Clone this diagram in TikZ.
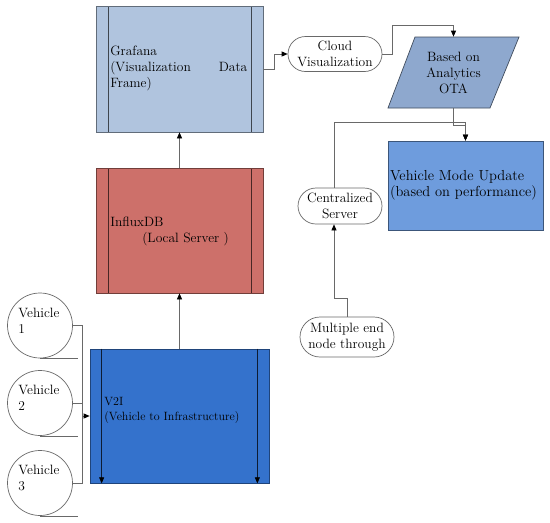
\documentclass[tikz,border=0pt]{standalone}
\usetikzlibrary{shapes.misc,arrows.meta}

\definecolor{grafanafill}{RGB}{176,196,222}
\definecolor{influxfill}{RGB}{205,112,106}
\definecolor{vtwoifill}{RGB}{52,114,204}
\definecolor{otafill}{RGB}{142,168,206}
\definecolor{modefill}{RGB}{110,156,221}
\definecolor{linegray}{RGB}{105,105,105}

\tikzset{%
  % Specifications for style of nodes:
     procbox/.style = {rectangle, draw=#1!55!black, fill=#1, minimum width=167pt, minimum height=126pt, inner sep=0pt,
                       path picture={\draw[#1!35!black] ([xshift=12pt]path picture bounding box.north west) -- ([xshift=12pt]path picture bounding box.south west);
                                     \draw[#1!35!black] ([xshift=-12pt]path picture bounding box.north east) -- ([xshift=-12pt]path picture bounding box.south east);}},
     boxtext/.style = {anchor=west, align=left, inner sep=0pt},
        tape/.style = {circle, draw=linegray, fill=white, minimum size=65pt, inner sep=0pt},
        term/.style = {rounded rectangle, draw=linegray, fill=white, inner sep=1pt, align=center},
       arrow/.style = {draw=linegray, -{Triangle[length=6pt,width=5pt,color=black]}},
        line/.style = {draw=linegray},
}

\begin{document}
\begin{tikzpicture}[x=1pt, y=-1pt, line width=0.7pt, every node/.style={font=\fontsize{13.5}{16}\selectfont}]
    \useasboundingbox[fill=white] (0,0) rectangle (550,523);

    % Draw nodes
    \node (grafana)  [procbox=grafanafill]                      at (179.5,69)   {};
    \node (influx)   [procbox=influxfill, minimum height=125pt] at (179.5,230.5) {};
    \node (vtwoi)    [rectangle, draw=vtwoifill!60!black, fill=vtwoifill, minimum width=179pt, minimum height=134pt] at (179.5,416) {};

    \node (grafanatxt) [boxtext, text width=137pt] at (110,68) {Grafana\\(Visualization\hfill Data\\Frame)};
    \node (influxtxt)  [boxtext]                   at (110,231) {InfluxDB\\\hspace*{32pt}(Local Server )};
    \node (vtwoitxt)   [boxtext, font=\fontsize{12}{15}\selectfont] at (104,410) {V2I\\(Vehicle to Infrastructure)};

    \node (veh1) [tape] at (40,325.5) {};
    \node (veh2) [tape] at (40,403)   {};
    \node (veh3) [tape] at (40,483)   {};
    \node (veh1txt) [boxtext] at ([xshift=-22pt,yshift=5pt]veh1.center) {Vehicle\\1};
    \node (veh2txt) [boxtext] at ([xshift=-22pt,yshift=5pt]veh2.center) {Vehicle\\2};
    \node (veh3txt) [boxtext] at ([xshift=-22pt,yshift=5pt]veh3.center) {Vehicle\\3};

    \node (cloud)   [term, minimum width=96pt, minimum height=35pt] at (335,54)  {Cloud\\Visualization};
    \node (central) [term, minimum width=86pt, minimum height=36pt] at (340,206) {Centralized\\Server};
    \node (multi)   [term, minimum width=96pt, minimum height=40pt] at (347,337) {Multiple end\\node through};

    \fill[otafill, draw=otafill!45!black] (415,37) -- (519,37) -- (490,108) -- (388,108) -- cycle;
    \node (ota)  [minimum height=71pt, inner sep=0pt, align=center] at (453.5,72.5) {Based on\\Analytics\\OTA};
    \node (mode) [rectangle, draw=modefill!55!black, fill=modefill, minimum width=155pt, minimum height=89pt,
                  text width=151pt, inner sep=2pt, align=left, font=\fontsize{14.5}{16}\selectfont] at (465.5,185.5) {Vehicle Mode Update\\(based on performance)\\[6pt]};

    % Draw arrows
    \draw[arrow]  (influx.north) -- (grafana.south);
    \draw[arrow]  (vtwoi.north) -- (influx.south);

    \draw[arrow, draw=vtwoifill!25!black]  ([xshift=12pt]vtwoi.north west) -- ([xshift=12pt]vtwoi.south west);
    \draw[arrow, draw=vtwoifill!25!black]  ([xshift=-12pt]vtwoi.north east) -- ([xshift=-12pt]vtwoi.south east);

    \coordinate (vbus) at (82,416);
    \draw[line]   (veh1.east) -| (vbus);
    \draw[line]   (veh2.east) -| (vbus);
    \draw[line]   (veh3.east) -| (vbus);
    \draw[arrow]  (vbus) -- (vtwoi.west);
    \draw[line]   (veh1.south) -- ++(38,0);
    \draw[line]   (veh2.south) -- ++(38,0);
    \draw[line]   (veh3.south) -- ++(38,0);

    \draw[arrow]  (grafana.east) -- ++(11,0) |- (cloud.west);
    \draw[arrow]  (cloud.east) -- ++(10,0) -- ++(0,-29) -| (ota.north);
    \draw[arrow]  (ota.south) -- ++(0,17) -| (mode.north);
    \draw[arrow]  ([xshift=-6pt]central.north) -- ++(0,-65) -| (mode.north);
    \draw[arrow]  (multi.north) -- ++(0,-18) -| ([xshift=-6pt]central.south);

\end{tikzpicture}
\end{document}
